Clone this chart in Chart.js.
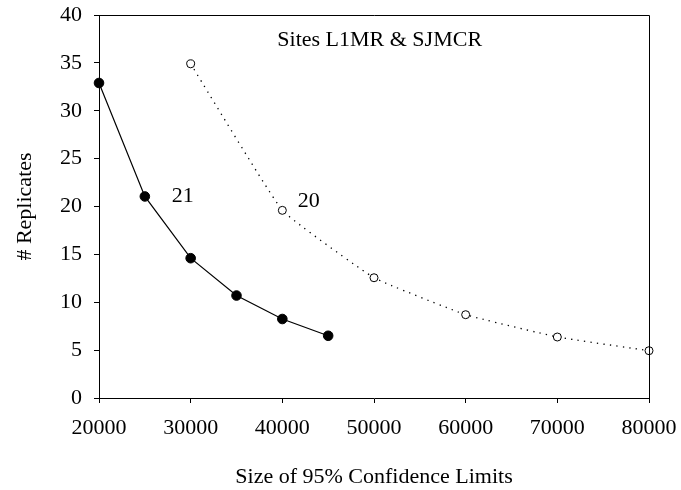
<!DOCTYPE html>
<html>
<head>
<meta charset="utf-8">
<script src="https://cdn.jsdelivr.net/npm/chart.js@4.4.1/dist/chart.umd.min.js"></script>
<style>
  html, body { margin: 0; padding: 0; background: #fff; }
  #wrap { width: 681px; height: 490px; }
</style>
</head>
<body>
<div id="wrap"><canvas id="grafico" width="681" height="490"></canvas></div>
<script>
// replicates needed vs. CI width, two site groups
const xFilled = [20000, 25000, 30000, 35000, 40000, 45000];
const yFilled = [32.9, 21.05, 14.6, 10.7, 8.25, 6.5];
const xOpen   = [30000, 40000, 50000, 60000, 70000, 80000];
const yOpen   = [34.9, 19.6, 12.56, 8.7, 6.37, 4.94];

const xTicks = [20000, 30000, 40000, 50000, 60000, 70000, 80000];
const yTicks = [0, 5, 10, 15, 20, 25, 30, 35, 40];

const titulo = 'Sites L1MR & SJMCR';
const rotulos = ['21', '20'];

const FONTE = 'Liberation Serif, Times New Roman, serif';

const pts = (xs, ys) => xs.map((x, i) => ({ x, y: ys[i] }));

// moldura superior/direita + textos soltos dentro da área
const extras = {
  id: 'extras',
  afterDatasetsDraw(chart) {
    const { ctx, chartArea: a, scales: { x, y } } = chart;
    ctx.save();
    ctx.strokeStyle = '#000';
    ctx.lineWidth = 1;
    ctx.beginPath();
    ctx.moveTo(a.left, a.top + 0.5);
    ctx.lineTo(a.right + 0.5, a.top + 0.5);
    ctx.lineTo(a.right + 0.5, a.bottom);
    ctx.stroke();

    ctx.fillStyle = '#000';
    ctx.font = `22px ${FONTE}`;
    ctx.textAlign = 'center';
    ctx.textBaseline = 'middle';
    ctx.fillText(titulo, x.getPixelForValue(50620), y.getPixelForValue(37.4));
    ctx.fillText(rotulos[0], x.getPixelForValue(29130), y.getPixelForValue(21.07));
    ctx.fillText(rotulos[1], x.getPixelForValue(42876), y.getPixelForValue(20.5));
    ctx.restore();
  }
};

new Chart(document.getElementById('grafico'), {
  type: 'line',
  data: {
    datasets: [
      {
        data: pts(xFilled, yFilled),
        borderColor: '#000', borderWidth: 1.2,
        pointRadius: 4.8, pointBorderWidth: 1,
        pointBackgroundColor: '#000', pointBorderColor: '#000',
        tension: 0, clip: false,
      },
      {
        data: pts(xOpen, yOpen),
        borderColor: '#000', borderWidth: 1.3, borderDash: [1.3, 5.2],
        pointRadius: 4, pointBorderWidth: 1,
        pointBackgroundColor: '#fff', pointBorderColor: '#000',
        tension: 0.1, clip: false,
      },
    ],
  },
  options: {
    responsive: false, animation: false, devicePixelRatio: 1,
    layout: { padding: { top: 15, right: 32, left: 0, bottom: 0 } },
    plugins: { legend: { display: false }, tooltip: { enabled: false } },
    scales: {
      x: {
        type: 'linear', min: 20000, max: 80000,
        afterBuildTicks: s => { s.ticks = xTicks.map(v => ({ value: v })); },
        afterFit: s => { s.height = 92; s.paddingLeft = 0; s.paddingRight = 0; },
        grid: { drawOnChartArea: false, drawTicks: true, tickLength: 5, color: '#000', lineWidth: 1 },
        border: { display: true, color: '#000', width: 1 },
        ticks: { color: '#000', padding: 12, maxRotation: 0, font: { family: FONTE, size: 22 }, callback: v => String(v) },
        title: { display: true, text: 'Size of 95% Confidence Limits', color: '#000', padding: { top: 0, bottom: 0 }, font: { family: FONTE, size: 22 } },
      },
      y: {
        type: 'linear', min: 0, max: 40,
        afterBuildTicks: s => { s.ticks = yTicks.map(v => ({ value: v })); },
        afterFit: s => { s.width = 99; s.paddingTop = 0; s.paddingBottom = 0; },
        grid: { drawOnChartArea: false, drawTicks: true, tickLength: 5, color: '#000', lineWidth: 1 },
        border: { display: true, color: '#000', width: 1 },
        ticks: { color: '#000', padding: 12, font: { family: FONTE, size: 22 }, callback: v => String(v) },
        title: { display: true, text: '# Replicates', color: '#000', padding: { top: 12, bottom: 0 }, font: { family: FONTE, size: 22 } },
      },
    },
  },
  plugins: [extras],
});
</script>
</body>
</html>
